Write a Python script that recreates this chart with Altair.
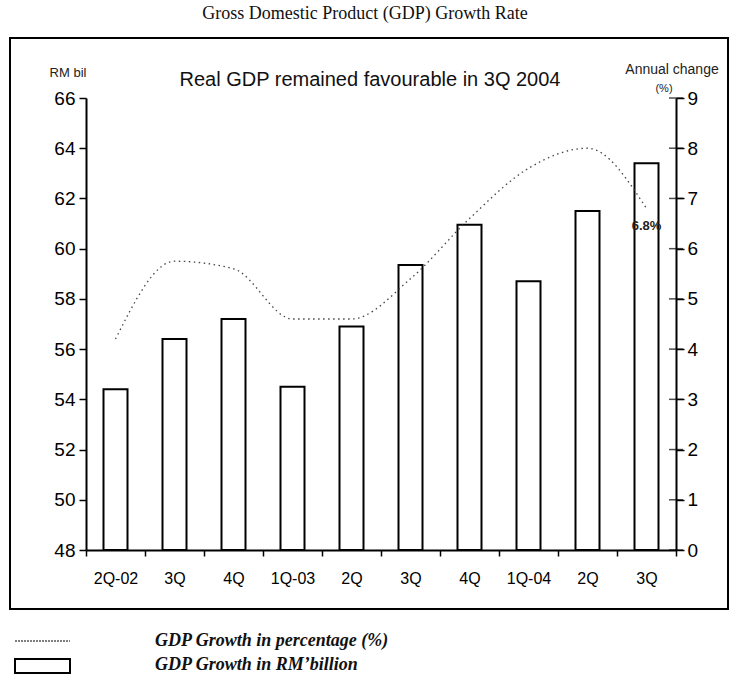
import altair as alt
import pandas as pd

# ---- data ----
quarter_keys = ["2Q-02", "3Q-02", "4Q-02", "1Q-03", "2Q-03", "3Q-03", "4Q-03", "1Q-04", "2Q-04", "3Q-04"]
tick_labels = ["2Q-02", "3Q", "4Q", "1Q-03", "2Q", "3Q", "4Q", "1Q-04", "2Q", "3Q"]
gdp_rm_bil = [54.4, 56.4, 57.2, 54.5, 56.9, 59.35, 60.95, 58.7, 61.5, 63.4]
gdp_growth_pct = [4.2, 5.75, 5.6, 4.6, 4.6, 5.4, 6.6, 7.6, 8.0, 6.8]
left_ticks = [48, 50, 52, 54, 56, 58, 60, 62, 64, 66]
right_ticks = [0, 1, 2, 3, 4, 5, 6, 7, 8, 9]

df = pd.DataFrame({
    "idx": list(range(len(quarter_keys))),
    "quarter": quarter_keys,
    "rm": gdp_rm_bil,
    "pct": gdp_growth_pct,
    "base": [48] * len(quarter_keys),
})
df["pct_label"] = ["" for _ in quarter_keys]
df.loc[df.index[-1], "pct_label"] = f"{gdp_growth_pct[-1]:.1f}%"

ticks_df = pd.DataFrame({"v": right_ticks})
one = pd.DataFrame({"a": [0]})

NARROW = "Liberation Sans Narrow, Liberation Sans, Arial, sans-serif"
SERIF = "Liberation Serif, Times New Roman, serif"

label_expr = "[" + ",".join(f"'{t}'" for t in tick_labels) + "][datum.value]"

x_enc = alt.X(
    "idx:O",
    scale=alt.Scale(paddingInner=0.0, paddingOuter=0.0),
    axis=alt.Axis(
        title=None, labelExpr=label_expr, labelAngle=0, tickBand="extent",
        tickSize=6, labelPadding=14, labelFont=NARROW, labelFontSize=16,
        labelColor="black", domainColor="black", domainWidth=2,
        tickColor="black", tickWidth=1.5,
    ),
)

bars = alt.Chart(df).mark_bar(size=24, fill="white", stroke="black", strokeWidth=2).encode(
    x=x_enc,
    y=alt.Y(
        "rm:Q",
        scale=alt.Scale(domain=[48, 66], nice=False, zero=False),
        axis=alt.Axis(
            title=None, values=left_ticks, tickSize=7, labelPadding=4,
            labelFont=NARROW, labelFontSize=19, labelColor="black",
            domainColor="black", domainWidth=2, tickColor="black", tickWidth=1.5,
            grid=False,
        ),
    ),
    y2="base:Q",
)

line = alt.Chart(df).mark_line(
    interpolate="monotone", stroke="#444", strokeWidth=1.3, strokeDash=[1.5, 3.5]
).encode(
    x=x_enc,
    y=alt.Y(
        "pct:Q",
        scale=alt.Scale(domain=[0, 9], nice=False),
        axis=alt.Axis(
            title=None, orient="right", values=right_ticks, tickSize=8,
            labelPadding=3, labelFont=NARROW, labelFontSize=19, labelColor="black",
            domainColor="black", domainWidth=2, tickColor="black", tickWidth=1.5,
            grid=False,
        ),
    ),
)

pct_text = alt.Chart(df).mark_text(
    dy=18, fontSize=13, fontWeight="bold", font="Liberation Sans, Arial", color="#222"
).encode(
    x=x_enc,
    y=alt.Y("pct:Q", scale=alt.Scale(domain=[0, 9], nice=False), axis=None),
    text="pct_label:N",
)

inner_ticks = alt.Chart(ticks_df).mark_tick(
    orient="horizontal", size=14, thickness=1.5, color="black"
).encode(
    x=alt.value(590),
    y=alt.Y("v:Q", scale=alt.Scale(domain=[0, 9], nice=False), axis=None),
)

def txt(text, x, y, **kw):
    return alt.Chart(one).mark_text(text=text, **kw).encode(x=alt.value(x), y=alt.value(y))

frame = alt.Chart(one).mark_rect(fill="transparent", stroke="black", strokeWidth=2).encode(
    x=alt.value(-76), x2=alt.value(642), y=alt.value(-60), y2=alt.value(511)
)

title = txt("Gross Domestic Product (GDP) Growth Rate", 279, -84, font=SERIF, fontSize=18, color="#111")
subtitle = txt("Real GDP remained favourable in 3Q 2004", 284, -18, font="Liberation Sans, Arial",
               fontSize=20, color="#111")
rm_bil = txt("RM bil", -18, -25, font=NARROW, fontSize=13, color="#222")
annual = txt("Annual change", 586, -28, font=NARROW, fontSize=14, color="#222")
pct_unit = txt("(%)", 578, -9, font=NARROW, fontSize=11, color="#222")

leg_line = alt.Chart(one).mark_rule(stroke="#555", strokeWidth=1.5, strokeDash=[2, 1]).encode(
    x=alt.value(-71), x2=alt.value(-16), y=alt.value(543)
)
leg_rect = alt.Chart(one).mark_rect(fill="white", stroke="black", strokeWidth=2).encode(
    x=alt.value(-71), x2=alt.value(-16), y=alt.value(561), y2=alt.value(575)
)
leg_t1 = txt("GDP Growth in percentage (%)", 69, 543, font=SERIF, fontSize=18, fontWeight="bold",
             fontStyle="italic", align="left", color="#111")
leg_t2 = txt("GDP Growth in RM\u2019billion", 69, 567, font=SERIF, fontSize=18, fontWeight="bold",
             fontStyle="italic", align="left", color="#111")

chart = alt.layer(
    bars, line, pct_text, inner_ticks,
    frame, title, subtitle, rm_bil, annual, pct_unit,
    leg_line, leg_rect, leg_t1, leg_t2,
).resolve_scale(y="independent").properties(
    width=590, height=452,
    autosize=alt.AutoSizeParams(type="none"),
    padding={"left": 86, "top": 98, "right": 55, "bottom": 136},
    background="white",
).configure_view(strokeWidth=0)

chart.save("out.html", embed_options={"renderer": "svg", "actions": False})
